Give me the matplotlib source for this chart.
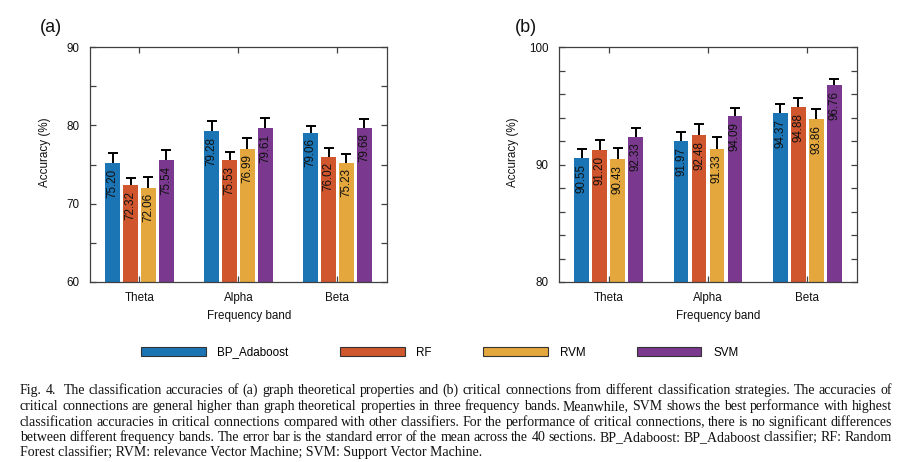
import numpy as np
import matplotlib
matplotlib.use('Agg')
import matplotlib.pyplot as plt
from matplotlib.patches import Patch
from matplotlib.ticker import MultipleLocator

# data
bands = ['Theta', 'Alpha', 'Beta']
methods = ['BP_Adaboost', 'RF', 'RVM', 'SVM']
colors = ['#1b74b4', '#d0562e', '#e3a73d', '#7a398e']

acc_a = [[75.20, 79.28, 79.06],   # BP_Adaboost
         [72.32, 75.53, 76.02],   # RF
         [72.06, 76.99, 75.23],   # RVM
         [75.54, 79.61, 79.68]]   # SVM
err_a = [[1.28, 1.32, 0.85],
         [1.00, 1.06, 1.06],
         [1.36, 1.40, 1.06],
         [1.28, 1.28, 1.15]]

acc_b = [[90.55, 91.97, 94.37],
         [91.20, 92.48, 94.88],
         [90.43, 91.33, 93.86],
         [92.33, 94.09, 96.76]]
err_b = [[0.79, 0.79, 0.79],
         [0.90, 0.96, 0.82],
         [1.00, 1.05, 0.88],
         [0.76, 0.74, 0.54]]

caption_lines = [
    "Fig. 4.  The classification accuracies of (a) graph theoretical properties and (b) critical connections from different classification strategies. The accuracies of",
    "critical connections are general higher than graph theoretical properties in three frequency bands. Meanwhile, SVM shows the best performance with highest",
    "classification accuracies in critical connections compared with other classifiers. For the performance of critical connections, there is no significant differences",
    "between different frequency bands. The error bar is the standard error of the mean across the 40 sections. BP_Adaboost: BP_Adaboost classifier; RF: Random",
    "Forest classifier; RVM: relevance Vector Machine; SVM: Support Vector Machine.",
]

plt.rcParams['font.family'] = ['Liberation Sans', 'DejaVu Sans']
axcol = '#404040'
W, H = 903, 462

fig = plt.figure(figsize=(W / 100, H / 100), dpi=100)


def panel(rect, acc, err, ylim, minor, letter):
    ax = fig.add_axes(rect)
    x = np.arange(1, len(bands) + 1)
    pitch, width = 0.181, 0.145
    for i in range(len(methods)):
        xs = x + (i - 1.5) * pitch
        ys = np.array(acc[i])
        es = np.array(err[i])
        ax.bar(xs, ys, width, color=colors[i], zorder=2)
        ax.vlines(xs, ys, ys + es, color='black', lw=1.4, zorder=3)
        ax.plot(xs, ys + es, ls='none', marker='_', ms=7, mew=1.4,
                color='black', zorder=3)
        for xv, yv in zip(xs, ys):
            ax.annotate('%.2f' % yv, (xv, yv), xytext=(0, -4),
                        textcoords='offset points', rotation=90,
                        ha='center', va='top', fontsize=8.4, color='#111111',
                        zorder=4)
    ax.set_xlim(0.5, 3.5)
    ax.set_ylim(*ylim)
    ax.set_xticks(x)
    ax.set_xticklabels(bands)
    ax.yaxis.set_major_locator(MultipleLocator(10))
    ax.yaxis.set_minor_locator(MultipleLocator(minor))
    ax.tick_params(axis='both', which='both', direction='in', colors=axcol,
                   labelcolor='#111111', labelsize=8.4, length=4.5, width=0.9)
    ax.tick_params(axis='x', top=True, pad=7)
    ax.tick_params(axis='y', which='both', right=True, pad=7.5)
    ax.tick_params(axis='x', which='minor', bottom=False, top=False)
    for s in ax.spines.values():
        s.set_color(axcol)
        s.set_linewidth(0.9)

    ax.set_xlabel('Frequency band', fontsize=8.4, color='#111111')
    ax.xaxis.set_label_coords(0.535, -0.143)
    ax.xaxis.label.set_va('center')
    ax.set_ylabel('Accuracy (%)', fontsize=8.4, color='#111111')
    ax.yaxis.set_label_coords(-0.153, 0.552)
    ax.yaxis.label.set_va('center')
    ax.yaxis.label.set_ha('center')
    ax.yaxis.label.set_rotation_mode('default')
    ax.text(-0.17, 1.085, letter, transform=ax.transAxes, fontsize=13,
            ha='left', va='center', color='#111111')
    return ax


ax_a = panel([90 / W, 1 - 282 / H, 297 / W, 235 / H], acc_a, err_a, (60, 90), 5, '(a)')
ax_b = panel([559 / W, 1 - 282 / H, 298 / W, 235 / H], acc_b, err_b, (80, 100), 2, '(b)')
ax_b.texts[-1].set_x(-0.148)

handles = [Patch(facecolor=c, edgecolor='#333333', lw=0.8) for c in colors]
fig.legend(handles, methods, loc='center left',
           bbox_to_anchor=(141 / W, 1 - 352.5 / H), ncol=4, frameon=False,
           fontsize=8.4, handlelength=5.55, handleheight=0.8, handletextpad=1.0,
           columnspacing=4.4, borderpad=0, borderaxespad=0)

# caption, justified word by word
renderer = fig.canvas.get_renderer()
cap_font = 'Liberation Serif'
x0, x1 = 20, 892
baselines = [394.3, 410, 425.6, 441, 456.3]


def word_widths(words, size):
    out = []
    for w in words:
        if not w:
            out.append(0.0)
            continue
        t = fig.text(0, 0, w, fontsize=size, family=cap_font)
        out.append(t.get_window_extent(renderer).width)
        t.remove()
    return out


# largest size (up to 10 pt) at which every justified line still fits
fs = 10.0
min_gap = 0.16
for line in caption_lines[:-1]:
    words = line.split(' ')
    wsum = sum(word_widths(words, 10.0))
    px = 10.0 * 100 / 72
    need = wsum + (len(words) - 1) * min_gap * px
    fs = min(fs, 10.0 * (x1 - x0) / need)

for k, (line, yb) in enumerate(zip(caption_lines, baselines)):
    if k == len(caption_lines) - 1:
        fig.text(x0 / W, 1 - yb / H, line, fontsize=fs, family=cap_font,
                 va='baseline', ha='left', color='#111111')
        continue
    words = line.split(' ')
    widths = word_widths(words, fs)
    gap = (x1 - x0 - sum(widths)) / (len(words) - 1)
    xp = x0
    for w, wd in zip(words, widths):
        if w:
            fig.text(xp / W, 1 - yb / H, w, fontsize=fs, family=cap_font,
                     va='baseline', ha='left', color='#111111')
        xp += wd + gap

fig.savefig('out.png', dpi=100)
